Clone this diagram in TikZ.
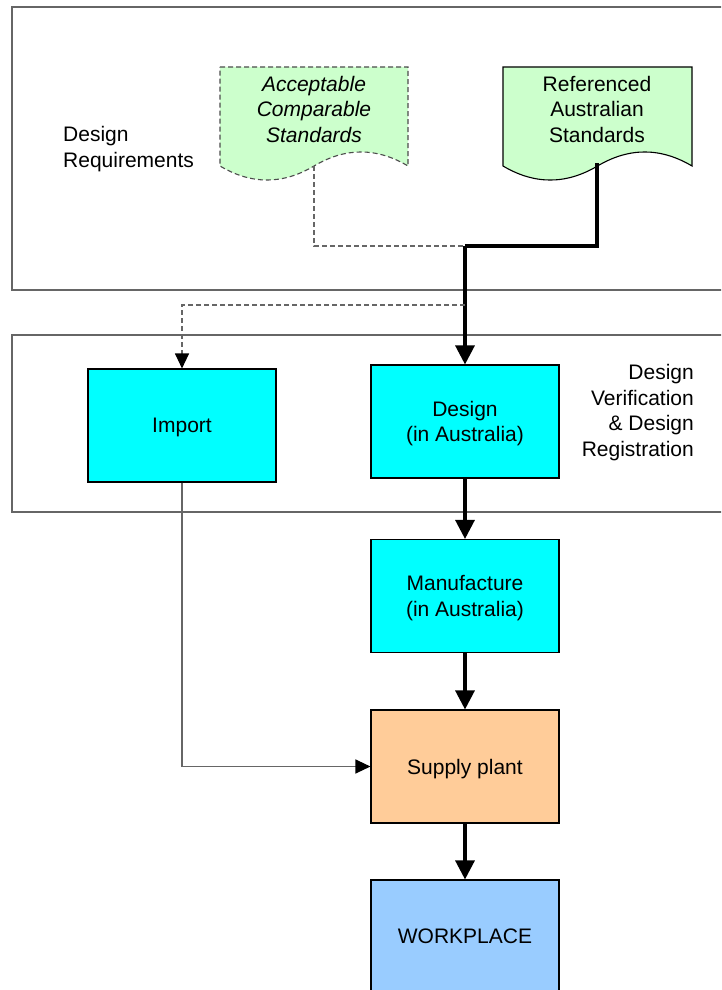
\documentclass[tikz,border=0pt]{standalone}
\usepackage{fontspec}
\setmainfont{Liberation Sans}
\usetikzlibrary{arrows.meta}
\definecolor{docgreen}{HTML}{CCFFCC}
\definecolor{boxcyan}{HTML}{00FFFF}
\definecolor{boxorange}{HTML}{FFCC99}
\definecolor{boxblue}{HTML}{99CCFF}
\definecolor{panelgray}{HTML}{666666}
% document shape with wavy bottom edge: #1 left x, #2 right x, #3 style
\newcommand{\drawdocshape}[3]{%
  \pgfmathsetmacro{\docw}{#2-#1}%
  \path[#3] (#1,67) -- (#2,67) -- (#2,166)
    .. controls ({#2-\docw/6},147.3) and ({#2-\docw/3},147.3) .. ({#1+\docw/2},166)
    .. controls ({#1+\docw/3},184.7) and ({#1+\docw/6},184.7) .. (#1,166) -- cycle;}
\begin{document}
\begin{tikzpicture}[x=1pt,y=-1pt,
  every node/.style={font=\fontsize{21}{25.5}\selectfont},
  panel/.style={draw=panelgray,line width=1.2pt},
  procbox/.style={draw=black,line width=1.1pt,minimum width=188pt,minimum height=113pt,inner sep=0pt,text depth=0pt,align=center},
  doctext/.style={align=center,inner sep=0pt},
  heavy/.style={line width=3.2pt,-{Triangle[length=19pt,width=19pt]}},
  heavyline/.style={line width=3.2pt},
  lightarrow/.style={draw=panelgray,line width=1.2pt,-{Triangle[length=15pt,width=14pt,color=black]}},
  dasharrow/.style={draw=panelgray,line width=1.1pt,dash pattern=on 5pt off 3pt,-{Triangle[length=15pt,width=14pt,color=black]}},
  dashline/.style={draw=panelgray,line width=1.1pt,dash pattern=on 5pt off 3pt}]
\clip (0,0) rectangle (721,990);
\fill[white] (0,0) rectangle (721,990);

% panels
\draw[panel] (12,7) rectangle (730,290);
\draw[panel] (12,335) rectangle (730,512);

\node[anchor=west,align=left,inner sep=0pt] (reqlabel) at (63,149) {Design\\Requirements};
\node[anchor=east,align=right,inner sep=0pt] (verlabel) at (694,412.5) {Design\\Verification\\\& Design\\Registration};

% standards documents
\drawdocshape{220}{408}{fill=docgreen,draw=black!70,line width=1.1pt,dash pattern=on 5pt off 3pt}
\drawdocshape{503}{692}{fill=docgreen,draw=black,line width=1.1pt}
\node[doctext,font=\fontsize{21}{25.5}\selectfont\itshape] (acc) at (314,109) {Acceptable\\Comparable\\Standards};
\node[doctext] (ref) at (597,109) {Referenced\\Australian\\Standards};
\coordinate (accout) at (314,166);
\coordinate (refout) at (597,163);

% process boxes
\node[procbox,fill=boxcyan] (import) at (182,425.5) {Import};
\node[procbox,fill=boxcyan] (design) at (465,421.5) {Design\\(in Australia)};
\node[procbox,fill=boxcyan] (manu) at (465,596) {Manufacture\\(in Australia)};
\node[procbox,fill=boxorange] (supply) at (465,766.5) {Supply plant};
\node[procbox,fill=boxblue] (work) at (465,936.5) {WORKPLACE};

% junctions
\coordinate (join) at (465,246);
\coordinate (split) at (465,305);

% connectors
\draw[dashline] (accout) |- (join);
\draw[heavyline] (refout) |- (join);
\draw[heavy] (join) -- (design.north);
\draw[dasharrow] (split) -| (import.north);
\draw[heavy] (design.south) -- (manu.north);
\draw[heavy] (manu.south) -- (supply.north);
\draw[heavy] (supply.south) -- (work.north);
\draw[lightarrow] (import.south) |- (supply.west);
\end{tikzpicture}
\end{document}
